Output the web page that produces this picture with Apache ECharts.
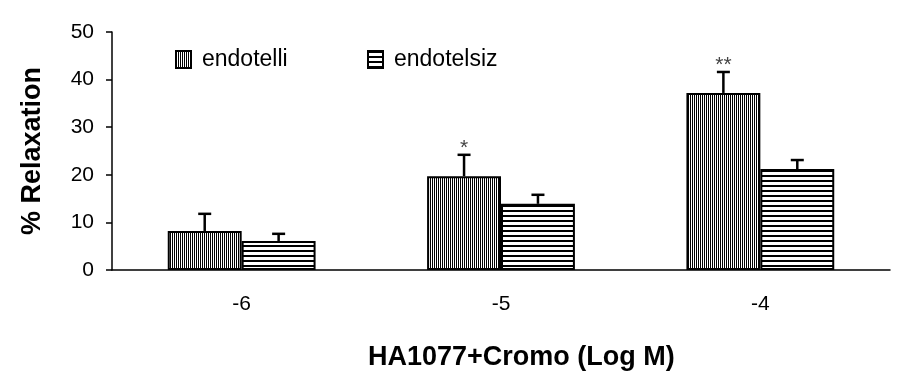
<!DOCTYPE html>
<html><head><meta charset="utf-8">
<script src="https://cdn.jsdelivr.net/npm/echarts@6/dist/echarts.min.js"></script>
<style>html,body{margin:0;padding:0;background:#fff}#c{width:900px;height:380px}</style>
</head><body><div id="c"></div>
<script>
var categories = ['-6', '-5', '-4'];
var seriesNames = ['endotelli', 'endotelsiz'];
var endotelli = [8.2, 19.7, 37.2];
var endotelliErr = [3.6, 4.5, 4.4];
var endotelsiz = [6.1, 13.9, 21.2];
var endotelsizErr = [1.5, 1.9, 1.9];
var endotelliSig = ['', '*', '**'];
var endotelsizSig = ['', '', ''];
var yTicks = [0, 10, 20, 30, 40, 50];

function makePattern(kind) {
  var c = document.createElement('canvas');
  var ctx = c.getContext('2d');
  if (kind === 'v') {
    c.width = 2; c.height = 2;
    ctx.fillStyle = '#fff'; ctx.fillRect(0, 0, 2, 2);
    ctx.fillStyle = '#000'; ctx.fillRect(0, 0, 1, 2);
  } else {
    c.width = 2; c.height = 5;
    ctx.fillStyle = '#fff'; ctx.fillRect(0, 0, 2, 5);
    ctx.fillStyle = '#000'; ctx.fillRect(0, 0, 2, 2);
  }
  return { image: c, repeat: 'repeat' };
}
var patV = makePattern('v');
var patH = makePattern('h');
var BW = 0.285;

var chart = echarts.init(document.getElementById('c'), null, { renderer: 'canvas' });

function errSeries(vals, errs, sig, side) {
  return {
    type: 'custom',
    z: 5,
    data: vals.map(function (v, i) { return [i, v, errs[i]]; }),
    renderItem: function (params, api) {
      var i = api.value(0), v = api.value(1), e = api.value(2);
      var bw = api.size([1, 0])[0] * BW;
      var x = api.coord([i, 0])[0] + side * bw / 2;
      var yTop = api.coord([i, v])[1];
      var yErr = api.coord([i, v + e])[1];
      var children = [
        { type: 'line', shape: { x1: x, y1: yTop, x2: x, y2: yErr }, style: { stroke: '#000', lineWidth: 2.5 } },
        { type: 'line', shape: { x1: x - 6.5, y1: yErr, x2: x + 6.5, y2: yErr }, style: { stroke: '#000', lineWidth: 2.5 } }
      ];
      var s = sig[i];
      if (s) {
        children.push({ type: 'text', style: { text: s, x: x, y: yErr + 4, textAlign: 'center', textVerticalAlign: 'bottom', fontFamily: 'Liberation Sans', fontSize: 21, fill: '#444' } });
      }
      return { type: 'group', children: children };
    },
    silent: true
  };
}

var legendText = { fontFamily: 'Liberation Sans', fontSize: 23, color: '#000', padding: [0, 0, 0, 6] };

chart.setOption({
  animation: false,
  backgroundColor: '#fff',
  grid: { left: 112, right: 10, top: 32, bottom: 110 },
  title: {
    text: 'HA1077+Cromo (Log M)', left: 363, top: 339,
    textStyle: { fontFamily: 'Liberation Sans', fontWeight: 'bold', fontSize: 27, color: '#000' }
  },
  legend: [
    { data: [seriesNames[0]], icon: 'rect', left: 170, top: 43, itemWidth: 15, itemHeight: 17,
      textStyle: legendText },
    { data: [seriesNames[1]], icon: 'rect', left: 362, top: 43, itemWidth: 15, itemHeight: 17,
      textStyle: legendText }
  ],
  xAxis: {
    type: 'category', data: categories,
    axisLine: { lineStyle: { color: '#000', width: 1.5 } },
    axisTick: { length: 7, lineStyle: { color: '#000', width: 1.5 } },
    axisLabel: { margin: 24, color: '#000', fontFamily: 'Liberation Sans', fontSize: 21 }
  },
  yAxis: {
    type: 'value', min: 0, max: 50, interval: 10,
    name: '% Relaxation', nameLocation: 'middle', nameGap: 66, nameRotate: 90,
    nameTextStyle: { fontFamily: 'Liberation Sans', fontWeight: 'bold', fontSize: 27, color: '#000' },
    axisLine: { show: true, lineStyle: { color: '#000', width: 1.5 } },
    axisTick: { show: true, length: 6, lineStyle: { color: '#000', width: 1.5 } },
    splitLine: { show: false },
    axisLabel: { margin: 18, color: '#000', fontFamily: 'Liberation Sans', fontSize: 21,
      formatter: function (v) { return yTicks.indexOf(v) >= 0 ? String(v) : ''; } }
  },
  series: [
    { name: seriesNames[0], type: 'bar', data: endotelli, barWidth: (BW * 100) + '%', barGap: '0%',
      itemStyle: { color: patV, borderColor: '#000', borderWidth: 2 } },
    { name: seriesNames[1], type: 'bar', data: endotelsiz, barWidth: (BW * 100) + '%', barGap: '0%',
      itemStyle: { color: patH, borderColor: '#000', borderWidth: 2 } },
    errSeries(endotelli, endotelliErr, endotelliSig, -1),
    errSeries(endotelsiz, endotelsizErr, endotelsizSig, 1)
  ]
});
</script>
</body></html>
